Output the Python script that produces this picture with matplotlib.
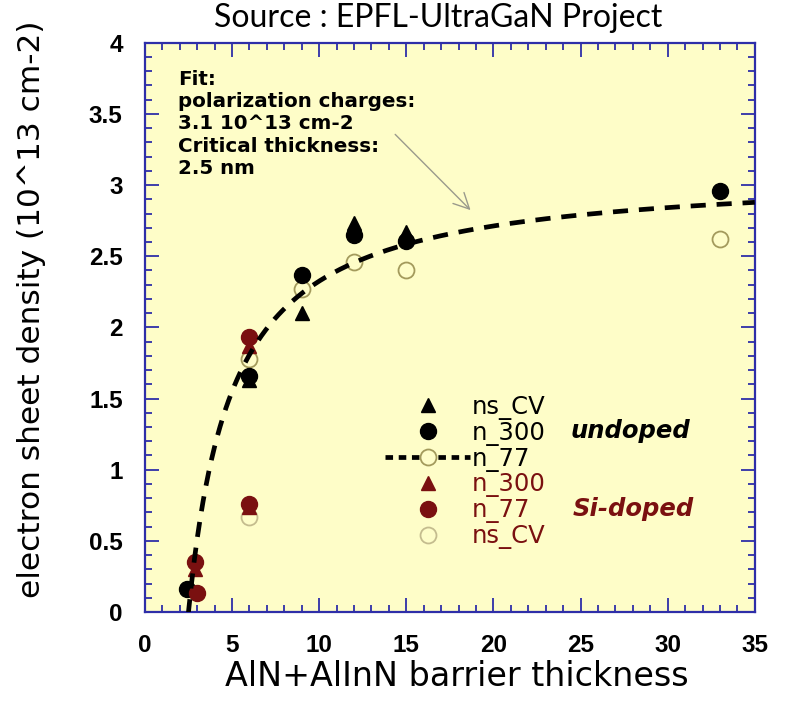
import numpy as np
import matplotlib
matplotlib.use("Agg")
import matplotlib.pyplot as plt
from matplotlib.lines import Line2D
from matplotlib.ticker import MultipleLocator, FixedLocator, FixedFormatter

plt.rcParams['font.family'] = ['DejaVu Sans']

# ---- data -------------------------------------------------------------
# undoped samples
undoped_nscv_x = [6, 9, 12, 15]
undoped_nscv_y = [1.63, 2.10, 2.73, 2.67]
undoped_n300_x = [2.4, 6, 9, 12, 15, 33]
undoped_n300_y = [0.16, 1.66, 2.37, 2.65, 2.61, 2.96]
undoped_n77_x = [6, 9, 12, 15, 33]
undoped_n77_y = [1.78, 2.27, 2.46, 2.40, 2.62]

# Si-doped samples
sidoped_n300_x = [2.9, 6, 6]
sidoped_n300_y = [0.30, 1.87, 0.74]
sidoped_n77_x = [2.9, 3.0, 6, 6]
sidoped_n77_y = [0.35, 0.13, 1.93, 0.76]
sidoped_nscv_x = [6]
sidoped_nscv_y = [0.67]

# fit parameters: ns = sigma * (1 - tc / d)
fit_sigma = 3.1
fit_tc = 2.5

x_ticks = [0, 5, 10, 15, 20, 25, 30, 35]
y_ticks = [0, 0.5, 1, 1.5, 2, 2.5, 3, 3.5, 4]
y_tick_labels = ['0', '0.5', '1', '1.5', '2', '2.5', '3', '3.5', '4']

# ---- style ------------------------------------------------------------
bg = '#fefdc8'
blue = '#2e2ea8'
dark_red = '#7a1010'
olive = '#a39a5c'
light_olive = '#c4bc8e'

fig = plt.figure(figsize=(7.92, 7.01), dpi=100)
ax = fig.add_axes([0.183, 0.127, 0.770, 0.812])
ax.set_facecolor(bg)

ms_c = 11.5
ms_t = 10.5

ax.plot(undoped_n77_x, undoped_n77_y, 'o', ms=ms_c, mfc='none', mec=olive, mew=1.3, zorder=3)
ax.plot(sidoped_nscv_x, sidoped_nscv_y, 'o', ms=ms_c, mfc='none', mec=light_olive, mew=1.3, zorder=3)
ax.plot(sidoped_n300_x, sidoped_n300_y, '^', ms=ms_t, color=dark_red, zorder=4)
ax.plot(undoped_nscv_x, undoped_nscv_y, '^', ms=ms_t, color='black', zorder=4)
ax.plot(undoped_n300_x, undoped_n300_y, 'o', ms=ms_c, color='black', zorder=5)
ax.plot(sidoped_n77_x, sidoped_n77_y, 'o', ms=ms_c, color=dark_red, zorder=6)

d = np.linspace(2.35, 35, 400)
ns = fit_sigma * (1 - fit_tc / d)
ax.plot(d, ns, color='black', lw=3.4, dashes=(3.2, 2.3), zorder=7)

ax.set_xlim(0, 35)
ax.set_ylim(0, 4)

# ---- axes, ticks ------------------------------------------------------
for s in ax.spines.values():
    s.set_color(blue)
    s.set_linewidth(1.6)

ax.xaxis.set_major_locator(FixedLocator(x_ticks))
ax.xaxis.set_minor_locator(MultipleLocator(1))
ax.yaxis.set_major_locator(FixedLocator(y_ticks))
ax.yaxis.set_major_formatter(FixedFormatter(y_tick_labels))
ax.yaxis.set_minor_locator(MultipleLocator(0.1))
ax.tick_params(which='both', direction='in', top=True, right=True, color=blue, width=1.3)
ax.tick_params(which='major', length=10, labelsize=17.5, pad=16)
ax.tick_params(which='minor', length=5)
for lab in ax.get_xticklabels() + ax.get_yticklabels():
    lab.set_fontweight('bold')
    lab.set_family(['Liberation Sans', 'DejaVu Sans'])

ax.set_xlabel('AlN+AlInN barrier thickness', fontsize=24)
ax.xaxis.set_label_coords(0.512, -0.085)
ax.set_ylabel('electron sheet density (10^13 cm-2)', fontsize=22.5)
ax.yaxis.set_label_coords(-0.163, 0.532)

# ---- annotations ------------------------------------------------------
ax.text(1.9, 3.81, 'Fit:\npolarization charges:\n3.1 10^13 cm-2\nCritical thickness:\n2.5 nm',
        fontsize=14.3, fontweight='bold', va='top', ha='left', linespacing=1.22)
ax.annotate('', xy=(18.8, 2.81), xytext=(14.25, 3.37),
            arrowprops=dict(arrowstyle='->', color='#9a9a8c', lw=1.0, mutation_scale=28))

fig.text(0.553, 0.975, 'Source : EPFL-UltraGaN Project', fontsize=23,
         family=['Lato', 'DejaVu Sans'], ha='center', va='center')

# ---- legend -----------------------------------------------------------
handles = [
    Line2D([], [], ls='none', marker='^', ms=ms_t, color='black'),
    Line2D([], [], ls='none', marker='o', ms=ms_c, color='black'),
    Line2D([], [], color='black', lw=3.4, dashes=(1.6, 1.2), marker='o', ms=ms_c,
           mfc=bg, mec=olive, mew=1.3),
    Line2D([], [], ls='none', marker='^', ms=ms_t, color=dark_red),
    Line2D([], [], ls='none', marker='o', ms=ms_c, color=dark_red),
    Line2D([], [], ls='none', marker='o', ms=ms_c, mfc='none', mec=light_olive, mew=1.3),
]
labels = ['ns_CV', 'n_300', 'n_77', 'n_300', 'n_77', 'ns_CV']
leg = ax.legend(handles, labels, loc='upper left', bbox_to_anchor=(0.378, 0.399),
                frameon=False, fontsize=17.5, handlelength=3.5, handletextpad=0.05,
                labelspacing=0.04, borderaxespad=0,
                labelcolor=['black', 'black', 'black', dark_red, dark_red, dark_red])

ax.text(0.698, 0.318, 'undoped', transform=ax.transAxes, fontsize=17.5,
        fontweight='bold', style='italic', color='black', va='center')
ax.text(0.702, 0.181, 'Si-doped', transform=ax.transAxes, fontsize=17.5,
        fontweight='bold', style='italic', color=dark_red, va='center')

fig.savefig('out.png', dpi=100, facecolor='white')
